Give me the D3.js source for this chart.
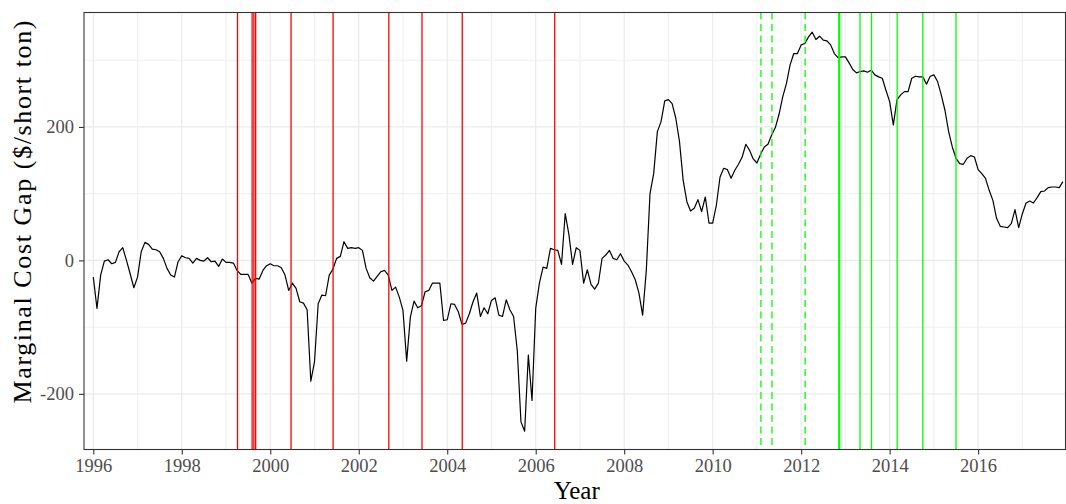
<!DOCTYPE html>
<html>
<head>
<meta charset="utf-8">
<script src="https://cdn.jsdelivr.net/npm/d3@7"></script>
<style>
  body { margin: 0; background: #fff; }
  svg { display: block; }
  text { font-family: "Liberation Serif", "DejaVu Serif", serif; }
</style>
</head>
<body>
<svg id="chart" width="1066" height="504"></svg>
<script>
// Monthly marginal cost gap ($/short ton), January 1996 onward
const firstYear = 1996;
const gap = [
  -25, -72, -22, -1, 1, -5, -3, 13, 19, 0, -20, -41,
  -25, 13, 27, 24, 17, 16, 13, 3, -12, -22, -25, -2,
  7, 4, 3, -4, 3, 0, -1, 4, -2, -1, -9, 2,
  -3, -3, -4, -15, -21, -21, -21, -34, -27, -28, -15, -8,
  -5, -8, -8, -11, -22, -45, -34, -42, -62, -64, -74, -181,
  -152, -65, -52, -53, -22, -13, 3, 6, 28, 18, 19, 18,
  19, 15, -12, -26, -31, -24, -17, -15, -22, -45, -40, -55,
  -75, -151, -85, -61, -71, -68, -47, -45, -34, -34, -34, -90,
  -89, -65, -66, -77, -96, -94, -80, -62, -49, -84, -71, -80,
  -60, -56, -82, -84, -59, -74, -84, -135, -242, -256, -142, -210,
  -72, -34, -10, -12, 18, 16, 15, -6, 70, 39, -6, 19,
  15, -34, -14, -36, -43, -34, 3, 8, 15, 3, 1, 10,
  -1, -7, -17, -29, -49, -82, -15, 100, 130, 193, 208, 239,
  241, 235, 213, 178, 120, 88, 74, 78, 91, 73, 95, 56,
  56, 83, 125, 138, 136, 123, 135, 144, 155, 174, 165, 152,
  146, 159, 170, 174, 188, 199, 219, 245, 265, 293, 310, 310,
  323, 325, 335, 342, 331, 336, 330, 329, 323, 310, 304, 305,
  305, 296, 286, 281, 283, 284, 282, 285, 278, 275, 273, 255,
  238, 203, 241, 248, 253, 253, 273, 276, 275, 275, 264, 276,
  278, 268, 248, 225, 193, 170, 153, 145, 144, 153, 157, 155,
  136, 130, 123, 105, 90, 63, 51, 50, 49, 55, 76, 49,
  70, 86, 89, 86, 94, 103, 104, 109, 110, 110, 109, 118
];

// Event dates (decimal years)
const redEvents = [1999.26, 1999.59, 1999.63, 1999.67, 2000.47, 2001.42, 2002.68, 2003.43, 2004.34, 2006.43];
const greenDashed = [2011.09, 2011.34, 2012.09];
const greenSolid = [2012.85, 2012.87, 2013.33, 2013.59, 2014.17, 2014.75, 2015.50];

// Axis ticks and grid
const xTickYears = [1996, 1998, 2000, 2002, 2004, 2006, 2008, 2010, 2012, 2014, 2016];
const xMinorYears = [1997, 1999, 2001, 2003, 2005, 2007, 2009, 2011, 2013, 2015, 2017];
const yTickValues = [-200, 0, 200];
const yMinorValues = [-100, 100, 300];

const panel = { left: 84, right: 1065.5, top: 12.5, bottom: 449.5 };

const x = d3.scaleLinear().domain([1995.79, 2017.975]).range([panel.left, panel.right]);
const y = d3.scaleLinear().domain([-283.4, 371.5]).range([panel.bottom, panel.top]);

const svg = d3.select("#chart");

svg.append("defs").append("clipPath").attr("id", "panel-clip")
  .append("rect")
  .attr("x", panel.left).attr("y", panel.top)
  .attr("width", panel.right - panel.left).attr("height", panel.bottom - panel.top);

// Grid
const grid = svg.append("g");
grid.selectAll("line.xminor").data(xMinorYears).join("line")
  .attr("x1", d => x(d)).attr("x2", d => x(d))
  .attr("y1", panel.top).attr("y2", panel.bottom)
  .attr("stroke", "#ebebeb").attr("stroke-width", 0.8);
grid.selectAll("line.yminor").data(yMinorValues).join("line")
  .attr("x1", panel.left).attr("x2", panel.right)
  .attr("y1", d => y(d)).attr("y2", d => y(d))
  .attr("stroke", "#ebebeb").attr("stroke-width", 0.8);
grid.selectAll("line.xmajor").data(xTickYears).join("line")
  .attr("x1", d => x(d)).attr("x2", d => x(d))
  .attr("y1", panel.top).attr("y2", panel.bottom)
  .attr("stroke", "#ebebeb").attr("stroke-width", 1.2);
grid.selectAll("line.ymajor").data(yTickValues).join("line")
  .attr("x1", panel.left).attr("x2", panel.right)
  .attr("y1", d => y(d)).attr("y2", d => y(d))
  .attr("stroke", "#ebebeb").attr("stroke-width", 1.2);

const plot = svg.append("g").attr("clip-path", "url(#panel-clip)");

// Series line
const series = gap.map((v, i) => ({ t: firstYear + i / 12, v }));
plot.append("path")
  .datum(series)
  .attr("fill", "none")
  .attr("stroke", "#000")
  .attr("stroke-width", 1.2)
  .attr("stroke-linejoin", "round")
  .attr("d", d3.line().x(d => x(d.t)).y(d => y(d.v)));

// Event markers
plot.selectAll("line.red").data(redEvents).join("line")
  .attr("x1", d => x(d)).attr("x2", d => x(d))
  .attr("y1", panel.top).attr("y2", panel.bottom)
  .attr("stroke", "#ff0000").attr("stroke-width", 1.3);
plot.selectAll("line.gdash").data(greenDashed).join("line")
  .attr("x1", d => x(d)).attr("x2", d => x(d))
  .attr("y1", panel.top).attr("y2", panel.bottom)
  .attr("stroke", "#00ff00").attr("stroke-width", 1.3)
  .attr("stroke-dasharray", "7,4.5");
plot.selectAll("line.gsolid").data(greenSolid).join("line")
  .attr("x1", d => x(d)).attr("x2", d => x(d))
  .attr("y1", panel.top).attr("y2", panel.bottom)
  .attr("stroke", "#00ff00").attr("stroke-width", 1.3);

// Panel border
svg.append("rect")
  .attr("x", panel.left).attr("y", panel.top)
  .attr("width", panel.right - panel.left).attr("height", panel.bottom - panel.top)
  .attr("fill", "none").attr("stroke", "#333").attr("stroke-width", 1.1);

// Axes
const xAxis = svg.append("g")
  .attr("transform", `translate(0,${panel.bottom})`)
  .call(d3.axisBottom(x).tickValues(xTickYears).tickFormat(d3.format("d")).tickSize(5).tickPadding(4));
const yAxis = svg.append("g")
  .attr("transform", `translate(${panel.left},0)`)
  .call(d3.axisLeft(y).tickValues(yTickValues).tickFormat(d => d < 0 ? "-" + Math.abs(d) : d).tickSize(5).tickPadding(5));

[xAxis, yAxis].forEach(a => {
  a.select(".domain").remove();
  a.selectAll(".tick line").attr("stroke", "#333").attr("stroke-width", 1.1);
  a.selectAll(".tick text")
    .attr("fill", "#4d4d4d")
    .style("font-size", "18.5px")
    .style("font-family", '"Liberation Serif", serif');
});

// Axis titles
svg.append("text")
  .attr("x", (panel.left + panel.right) / 2 + 2)
  .attr("y", 499)
  .attr("text-anchor", "middle")
  .style("font-size", "25px")
  .attr("fill", "#000")
  .text("Year");

svg.append("text")
  .attr("transform", `translate(31,212) rotate(-90)`)
  .attr("text-anchor", "middle")
  .attr("textLength", 383)
  .attr("lengthAdjust", "spacing")
  .style("font-size", "26px")
  .attr("fill", "#000")
  .text("Marginal Cost Gap ($/short ton)");
</script>
</body>
</html>
